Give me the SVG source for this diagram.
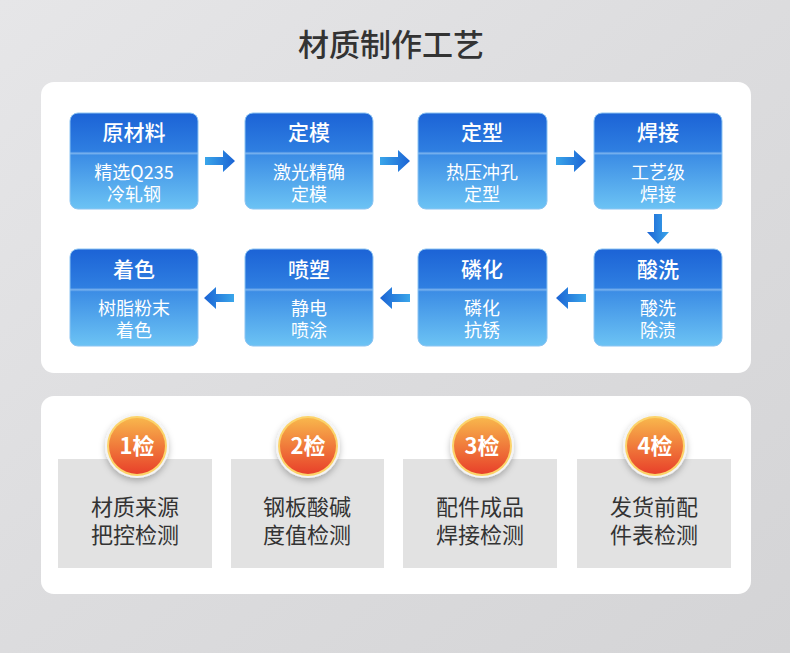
<svg xmlns="http://www.w3.org/2000/svg" width="790" height="653" viewBox="0 0 790 653">
<defs>
<linearGradient id="bg" x1="0" y1="0" x2="1" y2="1"><stop offset="0" stop-color="#e6e6e8"/><stop offset="0.5" stop-color="#dcdcde"/><stop offset="1" stop-color="#d4d4d6"/></linearGradient>
<linearGradient id="nodeG" x1="0" y1="0" x2="0" y2="1"><stop offset="0" stop-color="#1c63d6"/><stop offset="0.4" stop-color="#2f7fe1"/><stop offset="0.42" stop-color="#7ab2ee"/><stop offset="0.44" stop-color="#3c8de5"/><stop offset="1" stop-color="#6cc3f4"/></linearGradient>
<linearGradient id="arrR" x1="0" y1="0" x2="1" y2="0"><stop offset="0" stop-color="#3aa6ea"/><stop offset="1" stop-color="#1b63d4"/></linearGradient>
<linearGradient id="arrL" x1="1" y1="0" x2="0" y2="0"><stop offset="0" stop-color="#1b63d4"/><stop offset="1" stop-color="#3aa6ea"/></linearGradient>
<linearGradient id="arrD" x1="0" y1="0" x2="0" y2="1"><stop offset="0" stop-color="#3aa6ea"/><stop offset="1" stop-color="#1b63d4"/></linearGradient>
<linearGradient id="orange" x1="0" y1="0" x2="0" y2="1"><stop offset="0" stop-color="#f8b64c"/><stop offset="1" stop-color="#e8402a"/></linearGradient>
<filter id="sh" x="-30%" y="-30%" width="160%" height="170%"><feDropShadow dx="0" dy="3" stdDeviation="3" flood-color="#000" flood-opacity="0.25"/></filter>
<path id="ar" d="M0,-4 L18,-4 L18,-11 L30,0 L18,11 L18,4 L0,4 Z"/>
</defs>
<style>
.panel{fill:#ffffff}
.node{fill:url(#nodeG);stroke:#8cc4f2;stroke-width:1}
.nt{font-family:"Noto Sans CJK SC","Liberation Sans",sans-serif;fill:#ffffff;text-anchor:middle}
.t1{font-size:21px;font-weight:500}
.t2{font-size:18px}
.gbox{fill:#e2e2e2}
.gt{font-family:"Noto Sans CJK SC","Liberation Sans",sans-serif;fill:#333333;font-size:22px;text-anchor:middle}
.ct{font-family:"Noto Sans CJK SC","Liberation Sans",sans-serif;fill:#ffffff;font-size:22px;font-weight:bold;text-anchor:middle}
</style>
<rect x="0" y="0" width="790" height="653" fill="url(#bg)"/>
<text x="391" y="56" font-family="'Noto Sans CJK SC','Liberation Sans',sans-serif" font-size="31" font-weight="500" fill="#333333" text-anchor="middle">材质制作工艺</text>
<rect class="panel" x="41" y="82" width="710" height="291" rx="13"/>
<rect class="panel" x="41" y="396" width="710" height="198" rx="13"/>

<g id="connectors">
<use href="#ar" fill="url(#arrR)" transform="translate(205,161)"/>
<use href="#ar" fill="url(#arrR)" transform="translate(380,161)"/>
<use href="#ar" fill="url(#arrR)" transform="translate(556,161)"/>
<use href="#ar" fill="url(#arrD)" transform="translate(658,214) rotate(90)"/>
<use href="#ar" fill="url(#arrL)" transform="translate(586,298) rotate(180)"/>
<use href="#ar" fill="url(#arrL)" transform="translate(410,298) rotate(180)"/>
<use href="#ar" fill="url(#arrL)" transform="translate(234,298) rotate(180)"/>
</g>

<g id="n1"><rect class="node" x="70" y="113" width="128" height="96" rx="8"/><text class="nt t1" x="134" y="140">原材料</text><text class="nt t2" x="134" y="179">精选Q235</text><text class="nt t2" x="134" y="201">冷轧钢</text></g>
<g id="n2"><rect class="node" x="245" y="113" width="128" height="96" rx="8"/><text class="nt t1" x="309" y="140">定模</text><text class="nt t2" x="309" y="179">激光精确</text><text class="nt t2" x="309" y="201">定模</text></g>
<g id="n3"><rect class="node" x="418" y="113" width="129" height="96" rx="8"/><text class="nt t1" x="482" y="140">定型</text><text class="nt t2" x="482" y="179">热压冲孔</text><text class="nt t2" x="482" y="201">定型</text></g>
<g id="n4"><rect class="node" x="594" y="113" width="128" height="96" rx="8"/><text class="nt t1" x="658" y="140">焊接</text><text class="nt t2" x="658" y="179">工艺级</text><text class="nt t2" x="658" y="201">焊接</text></g>
<g id="n5"><rect class="node" x="594" y="249" width="128" height="97" rx="8"/><text class="nt t1" x="658" y="277">酸洗</text><text class="nt t2" x="658" y="315">酸洗</text><text class="nt t2" x="658" y="337">除渍</text></g>
<g id="n6"><rect class="node" x="418" y="249" width="129" height="97" rx="8"/><text class="nt t1" x="482" y="277">磷化</text><text class="nt t2" x="482" y="315">磷化</text><text class="nt t2" x="482" y="337">抗锈</text></g>
<g id="n7"><rect class="node" x="245" y="249" width="128" height="97" rx="8"/><text class="nt t1" x="309" y="277">喷塑</text><text class="nt t2" x="309" y="315">静电</text><text class="nt t2" x="309" y="337">喷涂</text></g>
<g id="n8"><rect class="node" x="70" y="249" width="128" height="97" rx="8"/><text class="nt t1" x="134" y="277">着色</text><text class="nt t2" x="134" y="315">树脂粉末</text><text class="nt t2" x="134" y="337">着色</text></g>

<g id="c1"><rect class="gbox" x="58" y="459" width="154" height="109"/><circle cx="137" cy="446" r="32" fill="#f4f4f4" filter="url(#sh)"/><circle cx="137" cy="446" r="30" fill="#fcd36a"/><circle cx="137" cy="446" r="28" fill="url(#orange)"/><text class="ct" x="137" y="454">1检</text><text class="gt" x="135" y="515">材质来源</text><text class="gt" x="135" y="543">把控检测</text></g>
<g id="c2"><rect class="gbox" x="231" y="459" width="153" height="109"/><circle cx="308" cy="446" r="32" fill="#f4f4f4" filter="url(#sh)"/><circle cx="308" cy="446" r="30" fill="#fcd36a"/><circle cx="308" cy="446" r="28" fill="url(#orange)"/><text class="ct" x="308" y="454">2检</text><text class="gt" x="307" y="515">钢板酸碱</text><text class="gt" x="307" y="543">度值检测</text></g>
<g id="c3"><rect class="gbox" x="403" y="459" width="154" height="109"/><circle cx="482" cy="446" r="32" fill="#f4f4f4" filter="url(#sh)"/><circle cx="482" cy="446" r="30" fill="#fcd36a"/><circle cx="482" cy="446" r="28" fill="url(#orange)"/><text class="ct" x="482" y="454">3检</text><text class="gt" x="480" y="515">配件成品</text><text class="gt" x="480" y="543">焊接检测</text></g>
<g id="c4"><rect class="gbox" x="577" y="459" width="154" height="109"/><circle cx="655" cy="446" r="32" fill="#f4f4f4" filter="url(#sh)"/><circle cx="655" cy="446" r="30" fill="#fcd36a"/><circle cx="655" cy="446" r="28" fill="url(#orange)"/><text class="ct" x="655" y="454">4检</text><text class="gt" x="654" y="515">发货前配</text><text class="gt" x="654" y="543">件表检测</text></g>
</svg>
